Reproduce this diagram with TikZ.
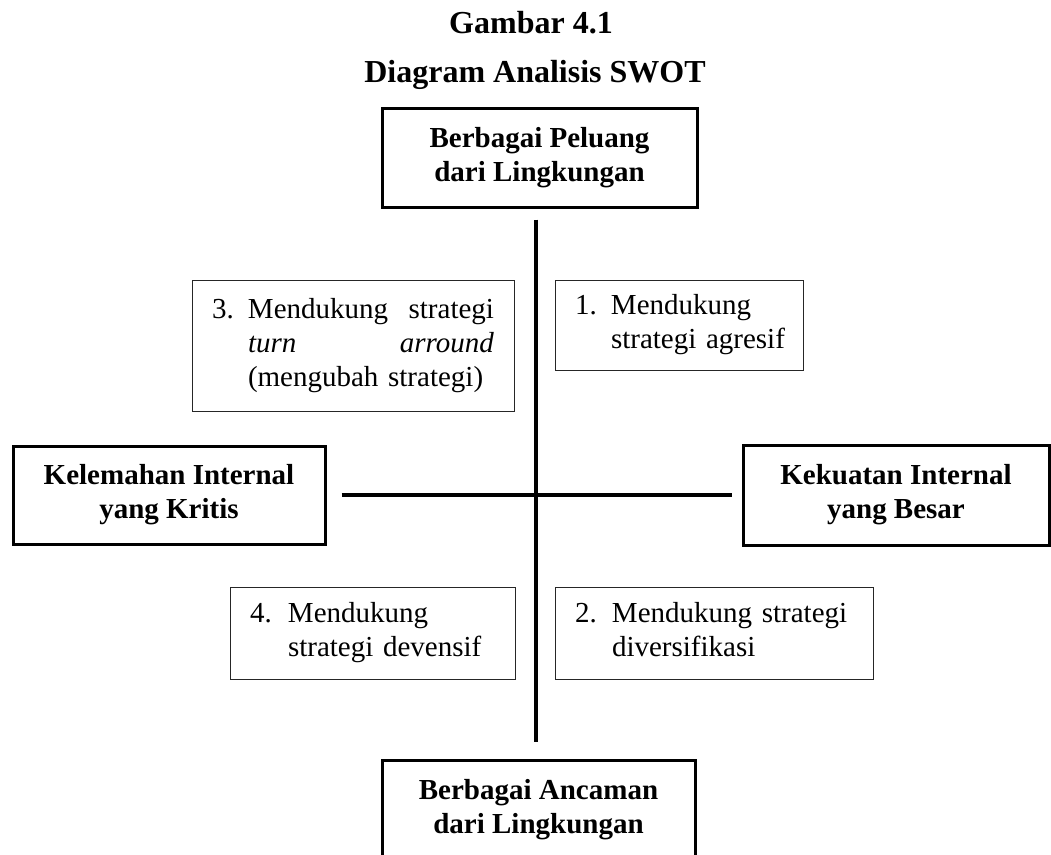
\documentclass[tikz,border=0pt]{standalone}
\usepackage{fontspec}
\setmainfont{Liberation Serif}
\usepackage{array}
\tikzset{
	judul/.style={anchor=base, font=\fontsize{32}{38}\selectfont\bfseries},
	kotakutama/.style={draw, line width=3pt, align=center, inner sep=0pt, font=\fontsize{29}{34}\selectfont\bfseries},
	kotakstrategi/.style={draw=black!85, line width=1pt, inner xsep=20pt, inner ysep=0pt, font=\fontsize{29}{34}\selectfont},
	sumbu/.style={line width=3.5pt}
}
\begin{document}
\begin{tikzpicture}[x=1pt, y=-1pt]
	\useasboundingbox (0,0) rectangle (1051,854);
	\clip (0,0) rectangle (1051,854);
	% judul
	\node[judul] (gambar) at (531,33) {Gambar 4.1};
	\node[judul] (diagram) at (535,82) {Diagram Analisis SWOT};
	% kotak utama
	\node[kotakutama, minimum width=315, minimum height=99] (peluang) at (539.5,157.5) {Berbagai Peluang\\dari Lingkungan};
	\node[kotakutama, minimum width=313, minimum height=99] (ancaman) at (538.5,809.5) {Berbagai Ancaman\\dari Lingkungan};
	\node[kotakutama, minimum width=312, minimum height=98] (kelemahan) at (169,495) {Kelemahan Internal\\yang Kritis};
	\node[kotakutama, minimum width=306, minimum height=100] (kekuatan) at (896,495) {Kekuatan Internal\\yang Besar};
	% sumbu
	\coordinate (pusat) at (536,495);
	\draw[sumbu, shorten <=11pt, shorten >=17pt] (pusat |- peluang.south) -- (pusat |- ancaman.north);
	\draw[sumbu, shorten <=15pt, shorten >=10pt] (kelemahan.east |- pusat) -- (kekuatan.west |- pusat);
	% kuadran
	\node[kotakstrategi, text width=208, minimum height=90] (agresif) at (679,325)
		{\begin{tabular}{@{}p{36pt}@{}l@{}}1. & Mendukung\\ & strategi agresif\end{tabular}};
	\node[kotakstrategi, text width=282, minimum height=131] (turnaround) at (353,345.5)
		{\begin{tabular}{@{}p{36pt}@{}p{246pt}@{}}3. & Mendukung\hfill strategi\\ & \textit{turn}\hfill\textit{arround}\\ & (mengubah strategi)\end{tabular}};
	\node[kotakstrategi, text width=245, minimum height=92] (devensif) at (372.5,633)
		{\begin{tabular}{@{}p{38pt}@{}l@{}}4. & Mendukung\\ & strategi devensif\end{tabular}};
	\node[kotakstrategi, text width=278, minimum height=92] (diversifikasi) at (714,633)
		{\begin{tabular}{@{}p{37pt}@{}l@{}}2. & Mendukung strategi\\ & diversifikasi\end{tabular}};
\end{tikzpicture}
\end{document}
